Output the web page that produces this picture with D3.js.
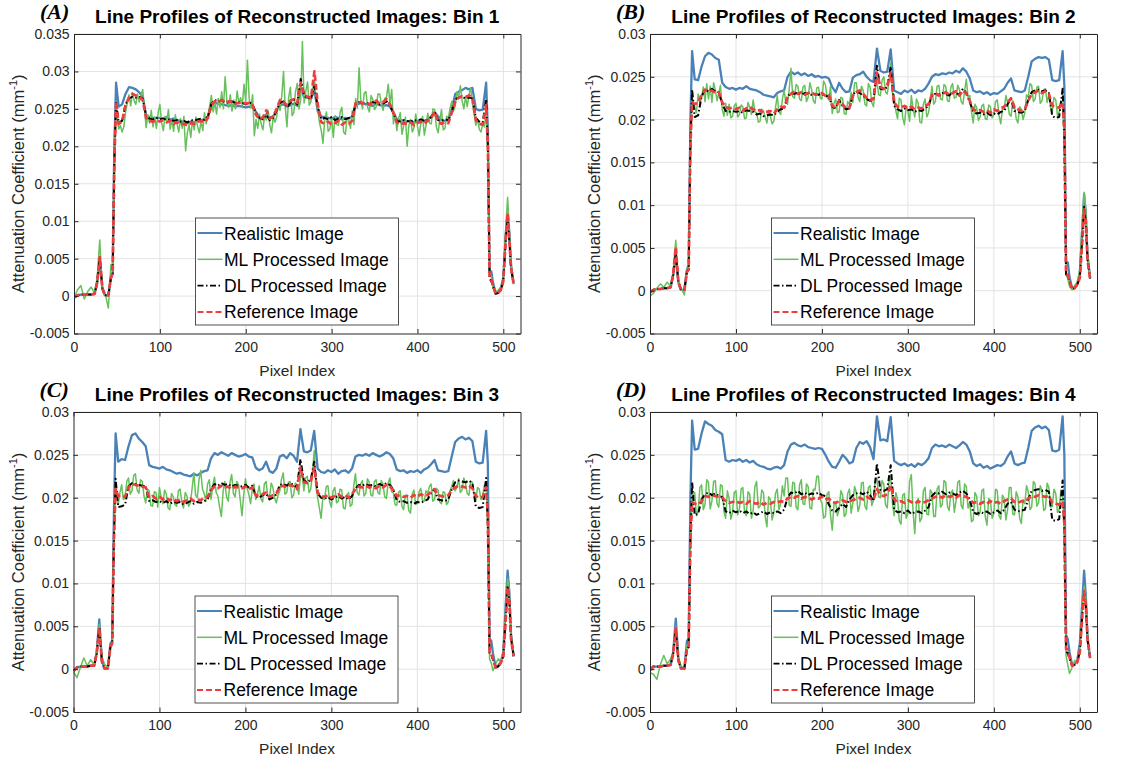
<!DOCTYPE html>
<html>
<head>
<meta charset="utf-8">
<script src="https://cdn.jsdelivr.net/npm/d3@7"></script>
<style>
  body { margin: 0; background: #fff; }
  svg text { font-family: "Liberation Sans", Arial, Helvetica, sans-serif; }
</style>
</head>
<body>
<svg id="fig" width="1140" height="761"></svg>
<script>
// Pixel positions along the profile (realistic, DL and reference curves)
const pixelIndex = [0,4,8,12,16,20,24,27,30,33,36,40,43,45,47,49,
  52,56,60,64,68,72,76,80,84,88,92,96,
  100,104,108,112,116,120,124,128,132,136,140,144,
  148,152,156,160,164,168,172,176,180,184,188,192,
  196,200,204,208,212,216,220,224,228,232,236,240,
  244,248,252,256,260,264,268,272,276,280,284,288,
  292,296,300,304,308,312,316,320,324,328,332,336,
  340,344,348,352,356,360,364,368,372,376,380,384,
  388,392,396,400,404,408,412,416,420,424,428,432,
  436,440,444,448,452,456,460,464,468,472,476,480,
  482,484,486,488,491,494,497,500,503,505,507,509,512];

// Denser pixel positions for the noisy ML curves
const mlIndex = [0,4,8,12,16,20,24,27,30,33,36,40,43,45,47,49,
  52,54,56,58,60,62,64,66,68,70,72,74,
  76,78,80,82,84,86,88,90,92,94,96,98,
  100,102,104,106,108,110,112,114,116,118,120,122,
  124,126,128,130,132,134,136,138,140,142,144,146,
  148,150,152,154,156,158,160,162,164,166,168,170,
  172,174,176,178,180,182,184,186,188,190,192,194,
  196,198,200,202,204,206,208,210,212,214,216,218,
  220,222,224,226,228,230,232,234,236,238,240,242,
  244,246,248,250,252,254,256,258,260,262,264,266,
  268,270,272,274,276,278,280,282,284,286,288,290,
  292,294,296,298,300,302,304,306,308,310,312,314,
  316,318,320,322,324,326,328,330,332,334,336,338,
  340,342,344,346,348,350,352,354,356,358,360,362,
  364,366,368,370,372,374,376,378,380,382,384,386,
  388,390,392,394,396,398,400,402,404,406,408,410,
  412,414,416,418,420,422,424,426,428,430,432,434,
  436,438,440,442,444,446,448,450,452,454,456,458,
  460,462,464,466,468,470,472,474,476,478,480,
  482,484,486,488,491,494,497,500,503,505,507,509,512];

// Attenuation values, in units of 1e-3 mm^-1

// ---- Bin 1 ----
const bin1Realistic = [-0.1,0.1,0.2,0.2,0.2,0.2,0.3,1.8,5.0,1.2,0.1,0.1,2.4,3.0,20.0,28.5,
  25.3,25.6,27.0,27.9,27.8,27.6,27.2,26.6,24.2,23.9,23.8,23.8,
  23.8,23.7,23.9,23.6,23.7,23.5,23.4,23.2,23.1,23.3,23.2,23.4,
  23.5,23.6,24.0,25.2,25.8,25.7,25.6,25.5,25.4,25.5,25.3,25.4,
  25.3,25.2,25.3,25.2,24.6,23.8,23.7,24.3,23.8,24.0,24.8,25.5,
  25.6,25.3,25.5,25.7,25.4,28.0,26.5,26.5,26.3,27.5,24.6,24.0,
  23.9,23.8,23.7,23.9,23.8,23.6,23.8,23.7,24.0,25.5,25.7,25.8,
  25.6,25.5,25.4,25.7,25.5,25.4,25.5,25.3,24.5,23.6,23.5,23.4,
  23.3,23.4,23.2,23.3,23.5,23.4,23.6,24.0,24.6,24.0,23.5,23.4,
  23.5,25.0,27.0,27.3,27.5,27.8,27.6,27.8,25.0,24.8,24.9,28.5,
  22.0,3.2,3.3,1.8,0.4,0.5,0.9,2.5,8.5,11.0,8.5,4.0,1.6];
const bin1ML = [-0.3,0.8,1.4,-0.4,0.6,1.2,0.4,2.5,7.5,0.9,0.5,-1.6,4.2,3.5,16.0,25.5,
  22.3,22.8,21.9,22.6,24.5,25.8,26.9,25.4,27.2,26.1,25.6,27.0,
  25.9,26.8,27.6,25.1,22.5,24.2,23.1,24.8,22.6,23.9,22.4,24.5,
  25.6,23.2,22.1,24.0,23.4,24.9,22.3,23.6,22.0,24.2,23.0,21.9,
  23.7,22.4,24.0,19.4,21.8,22.9,21.2,23.5,22.2,23.9,22.6,21.8,
  23.4,22.1,24.5,23.0,24.2,25.4,26.8,24.6,25.9,24.3,26.4,25.2,
  27.3,25.0,29.3,26.1,25.2,26.9,24.7,26.2,25.0,27.4,25.8,26.5,
  25.4,28.3,26.0,31.5,26.4,25.1,26.9,21.4,23.6,22.4,24.3,23.0,
  22.2,24.1,23.5,24.8,22.9,21.8,24.0,23.2,23.9,25.6,24.8,26.7,
  30.0,25.3,22.6,26.5,27.9,24.1,24.5,27.3,28.4,25.0,26.2,34.0,
  25.8,27.4,28.6,25.5,26.0,27.7,28.9,26.2,24.8,23.1,22.1,20.4,
  23.5,24.6,22.0,22.3,23.8,21.2,24.1,22.9,22.8,24.6,25.2,21.9,
  21.6,23.8,23.5,22.4,24.7,22.9,26.4,25.1,30.5,26.2,25.0,27.1,
  27.3,25.2,24.6,26.8,26.2,24.9,25.3,27.0,27.0,25.6,24.8,26.4,
  26.6,28.3,25.7,27.6,23.0,24.3,22.1,23.7,24.5,21.6,22.8,23.9,
  20.0,22.8,23.6,21.9,22.5,24.3,22.7,21.4,23.2,24.0,21.5,22.8,
  24.4,23.1,23.0,25.0,24.9,22.6,21.8,23.5,24.9,22.2,22.4,24.0,
  23.8,25.1,26.0,24.7,25.4,27.3,26.5,28.1,26.1,25.0,26.6,25.3,
  26.9,27.8,25.7,24.2,22.8,23.6,22.3,21.9,23.0,22.6,24.8,
  19.0,2.8,2.6,1.0,0.6,0.8,1.2,2.5,9.5,13.2,9.0,4.5,2.0];
const bin1DL = [-0.2,0.1,0.2,0.2,0.2,0.2,0.3,1.8,5.1,1.0,0.1,0.1,2.4,3.0,18.0,25.8,
  23.2,23.4,25.6,26.4,26.6,26.5,26.6,26.4,24.0,23.7,23.6,23.8,
  23.6,23.7,23.5,23.6,23.4,23.5,23.3,23.4,23.2,23.5,23.4,23.6,
  23.7,23.5,24.0,25.7,26.2,26.0,26.1,25.9,25.8,26.0,25.8,25.9,
  25.8,25.6,25.9,25.6,24.4,23.8,23.6,24.2,23.5,23.8,24.8,25.8,
  26.0,25.2,25.8,26.2,25.6,29.0,26.8,26.4,26.5,28.0,25.2,23.6,
  23.8,23.6,23.9,23.5,23.7,23.9,23.6,23.8,23.9,25.6,25.9,25.8,
  25.8,25.7,25.9,25.8,25.6,25.7,26.0,25.5,24.4,23.4,23.3,23.5,
  23.4,23.3,23.5,23.4,23.6,23.4,23.5,23.9,24.6,23.5,23.4,23.6,
  23.5,24.6,26.3,26.5,26.6,26.4,26.5,26.4,23.8,23.3,23.2,26.3,
  20.0,2.3,2.0,1.3,0.3,0.4,0.8,2.0,7.8,10.5,7.3,3.7,1.6];
const bin1Reference = [-0.2,0.1,0.2,0.2,0.2,0.2,0.3,1.8,5.2,1.0,0.1,0.1,2.5,3.0,18.0,26.0,
  23.0,23.3,25.5,26.5,27.0,26.8,26.6,26.2,23.8,23.4,23.3,23.5,
  23.3,23.5,23.2,23.4,23.0,23.2,22.9,23.0,22.8,23.1,23.0,23.3,
  23.4,23.2,23.8,25.6,26.0,25.9,26.2,25.8,26.0,25.9,25.7,25.8,
  25.9,25.7,25.8,25.5,24.2,23.6,23.9,24.8,23.7,24.0,25.0,26.2,
  25.9,25.5,26.1,26.3,25.8,28.5,27.0,26.6,26.5,30.0,25.5,23.2,
  23.0,23.3,22.9,23.1,23.4,22.9,23.2,23.0,23.4,25.8,26.0,25.7,
  25.9,25.6,25.8,26.1,25.7,25.9,26.3,25.6,24.5,23.2,22.9,23.1,
  23.0,23.2,22.8,23.1,23.3,23.0,23.4,23.8,24.6,23.3,23.0,23.2,
  23.1,24.5,26.0,26.5,26.7,26.6,26.8,26.5,23.5,23.0,22.9,25.5,
  20.0,2.5,2.2,1.4,0.3,0.4,0.8,2.0,8.0,11.0,7.5,3.8,1.6];

// ---- Bin 2 ----
const bin2Realistic = [-0.2,0.1,0.2,0.2,0.3,0.3,0.4,1.8,4.2,1.0,0.1,0.1,2.5,3.0,20.0,28.0,
  24.7,24.6,26.2,27.4,27.8,27.6,27.2,27.0,24.3,23.8,23.6,23.7,
  23.5,23.7,23.6,23.9,23.6,23.5,23.4,23.2,22.9,22.8,22.7,22.6,
  23.1,23.3,23.4,25.0,25.6,25.3,25.5,25.2,25.4,25.1,25.3,25.0,
  25.1,24.9,25.0,24.8,23.8,23.2,24.3,23.6,23.2,23.3,24.9,25.2,
  25.3,25.6,25.0,24.6,24.4,28.3,25.7,25.5,25.6,28.2,23.4,23.2,
  23.0,23.4,23.2,23.5,23.1,23.4,23.3,23.6,24.2,25.0,25.3,25.2,
  25.4,25.3,25.5,25.4,25.7,25.5,26.0,25.6,24.8,23.4,23.2,23.3,
  23.0,23.2,22.9,23.1,23.0,23.3,23.6,24.3,24.8,23.4,23.3,23.2,
  23.4,25.0,26.8,27.1,27.3,27.2,27.3,27.0,24.6,24.5,24.6,28.0,
  24.0,3.4,3.3,1.6,0.3,0.4,0.8,2.0,7.5,11.3,9.0,4.0,1.5];
const bin2ML = [-0.6,-0.3,0.3,0.8,0.4,1.0,0.5,2.3,5.9,1.2,0.3,-0.5,2.5,2.8,16.0,22.5,
  21.5,20.8,23.0,21.9,22.6,23.8,22.1,24.2,22.4,23.9,22.0,24.3,
  23.5,22.2,23.1,24.0,21.2,20.4,21.9,20.5,21.8,20.2,20.4,21.6,
  21.9,20.3,20.6,21.7,21.5,20.1,20.2,22.0,21.4,20.6,22.3,20.9,
  20.8,19.7,19.8,21.2,21.0,20.3,19.6,21.1,20.4,19.5,19.8,21.4,
  22.8,20.9,20.6,22.4,23.4,22.0,21.8,23.6,26.0,22.7,22.5,24.1,
  23.9,22.4,22.2,23.8,24.0,22.1,22.6,24.3,23.5,22.2,21.9,23.7,
  23.8,22.5,22.4,24.5,24.1,22.6,22.3,23.9,20.7,21.9,22.4,20.8,
  20.9,22.6,22.5,20.7,20.6,22.1,21.8,23.2,22.0,24.3,24.3,22.6,
  22.1,23.9,23.4,21.8,21.6,24.2,23.8,22.0,21.5,23.6,24.5,22.9,
  22.8,24.6,25.0,23.2,23.0,24.4,26.6,23.1,22.9,21.0,20.1,22.5,
  22.3,20.2,19.4,21.6,21.0,19.8,22.8,21.3,20.3,22.4,21.9,19.7,
  19.6,21.8,22.4,20.3,20.8,22.2,23.9,21.8,22.1,23.9,24.0,22.4,
  22.3,24.1,23.9,22.2,22.1,23.8,24.2,22.5,22.6,24.0,23.5,22.1,
  21.8,23.4,24.7,22.6,22.8,20.9,19.6,21.8,21.4,19.9,20.3,21.6,
  21.8,20.1,20.0,21.7,21.5,20.2,20.6,22.1,22.3,20.5,19.5,21.3,
  21.2,22.8,22.0,20.6,20.4,22.2,21.7,20.1,19.6,21.5,21.2,20.0,
  20.8,22.9,22.6,24.2,24.0,22.1,22.4,23.8,23.9,21.9,22.2,23.5,
  23.6,22.0,22.9,21.4,21.0,22.6,22.3,20.5,20.9,22.2,21.8,
  17.0,2.0,1.4,0.5,0.1,0.6,1.0,2.5,8.5,11.5,9.5,4.5,1.8];
const bin2DL = [-0.2,0.1,0.2,0.2,0.3,0.3,0.4,1.9,4.4,1.0,0.1,0.1,2.2,2.5,17.0,23.5,
  20.3,20.5,22.7,23.5,23.3,23.6,23.3,23.2,21.8,21.0,20.9,21.0,
  20.9,21.0,20.8,21.1,21.0,20.9,20.6,20.7,20.4,20.5,20.6,20.5,
  20.9,21.2,21.3,22.7,23.1,23.0,23.2,22.9,23.1,23.0,22.9,23.0,
  22.9,23.0,22.7,22.8,21.5,21.3,22.3,21.6,21.2,21.3,22.9,23.3,
  23.1,22.8,22.4,22.2,22.3,26.3,23.6,23.5,23.8,26.2,21.6,21.2,
  21.0,21.3,21.1,21.2,20.9,21.1,21.0,21.3,21.6,22.8,23.0,22.9,
  23.1,23.0,22.8,23.2,23.1,22.9,23.6,23.1,22.0,21.0,20.7,20.8,
  20.6,20.8,20.5,20.7,20.6,20.9,21.0,21.8,22.4,21.0,20.9,20.8,
  21.0,22.3,23.2,23.4,23.5,23.3,23.4,23.2,20.4,20.2,20.3,23.6,
  18.0,1.9,1.7,1.1,0.2,0.3,0.7,1.5,6.2,9.8,8.0,3.6,1.4];
const bin2Reference = [-0.2,0.1,0.2,0.2,0.3,0.3,0.4,2.0,5.1,1.0,0.1,0.1,2.2,2.5,17.0,22.0,
  21.8,22.0,22.9,23.5,23.3,23.4,23.1,23.2,22.0,21.5,21.3,21.4,
  21.2,21.4,21.1,21.3,21.5,21.2,21.0,21.1,20.8,20.9,21.0,20.7,
  21.2,21.5,21.4,22.6,23.0,23.3,23.0,23.2,22.9,23.1,23.2,22.9,
  23.0,23.1,22.8,22.9,21.6,21.4,22.2,21.8,21.3,21.4,22.8,23.2,
  23.4,23.0,22.5,22.3,22.4,25.5,23.8,23.6,24.0,25.5,22.0,21.5,
  21.4,21.6,21.3,21.5,21.2,21.4,21.3,21.6,21.8,22.9,23.1,22.8,
  23.0,23.2,22.9,23.1,23.3,22.8,23.4,23.0,22.2,21.2,21.0,21.1,
  20.9,21.1,20.8,21.2,21.0,21.3,21.5,22.0,22.5,21.4,21.2,21.0,
  21.2,22.2,23.0,23.2,23.4,23.1,23.3,23.0,21.6,21.5,21.4,22.0,
  19.0,2.0,1.8,1.2,0.2,0.3,0.7,1.5,6.0,9.5,8.0,3.5,1.4];

// ---- Bin 3 ----
const bin3Realistic = [-0.2,0.2,0.3,0.3,0.3,0.4,0.4,2.0,5.8,1.0,0.1,0.1,3.0,3.3,18.0,27.5,
  24.2,24.5,24.4,26.0,27.3,27.5,26.9,26.5,26.0,23.8,23.6,23.5,
  23.4,23.6,23.3,23.2,23.0,22.8,22.9,22.7,22.6,22.5,22.8,22.6,
  22.9,23.1,23.2,24.6,25.2,25.0,25.3,25.1,24.9,25.2,25.0,24.8,
  24.9,25.1,24.8,24.7,23.5,23.2,23.4,24.2,23.1,22.9,23.4,24.8,
  25.0,24.6,25.2,24.9,24.2,28.0,25.4,25.3,25.5,27.8,23.4,23.0,
  22.9,23.2,23.0,23.3,22.8,23.1,23.2,22.9,23.4,24.8,25.0,24.9,
  25.1,24.9,25.2,25.0,24.8,25.0,25.3,25.1,24.6,23.3,23.1,23.2,
  22.9,23.1,23.0,23.2,22.9,23.3,23.5,23.9,24.4,23.2,23.1,23.0,
  23.1,24.8,26.5,26.9,27.1,26.8,27.0,26.6,24.2,24.0,24.1,27.8,
  24.0,3.5,3.3,1.8,0.3,0.4,0.8,2.0,8.0,11.5,9.0,4.0,1.5];
const bin3ML = [-0.3,-1.0,0.2,1.3,0.4,1.1,0.5,2.2,5.2,1.5,0.6,0.2,2.8,3.2,15.5,21.0,
  19.2,20.6,21.5,19.8,20.0,21.9,22.3,20.4,20.8,22.6,22.8,20.9,
  20.5,22.1,21.9,20.2,19.4,21.0,20.8,19.1,19.0,20.7,20.6,18.9,
  21.2,20.0,19.3,20.9,20.4,18.8,18.6,20.5,20.1,19.2,19.0,20.8,
  21.0,19.5,18.8,20.6,20.2,19.0,19.4,21.1,22.9,20.3,20.0,22.1,
  23.2,21.0,20.5,19.6,21.6,22.1,19.8,21.4,22.4,20.6,20.2,18.9,
  17.8,20.7,21.9,20.1,19.6,21.8,22.7,20.5,20.1,21.9,21.5,19.7,
  17.9,20.3,22.2,21.1,20.4,19.3,21.0,21.6,19.8,20.4,21.4,19.9,
  19.5,21.6,21.9,20.2,20.0,21.7,21.2,19.9,19.4,20.3,20.8,22.2,
  22.9,20.4,20.6,21.8,21.9,20.0,20.3,21.7,21.5,20.4,22.4,23.1,
  20.8,22.3,22.5,20.6,21.0,22.9,25.5,21.3,20.0,18.8,17.6,19.9,
  19.8,21.3,21.4,19.5,18.9,20.8,21.2,19.4,19.6,21.0,20.9,18.8,
  18.7,20.3,20.6,19.0,19.2,21.4,22.8,20.6,20.3,21.6,22.0,20.2,
  20.5,22.2,21.8,20.3,20.2,21.9,22.1,20.6,20.4,22.0,21.6,20.1,
  19.9,21.7,22.3,20.7,20.6,19.2,19.1,20.6,20.8,19.0,18.6,20.3,
  20.3,18.5,18.2,20.4,20.9,19.2,19.4,20.7,21.1,19.7,19.6,20.8,
  20.5,21.3,21.6,19.6,19.8,21.1,20.9,19.5,19.3,20.7,20.6,19.2,
  19.5,20.8,21.3,22.0,20.8,21.2,22.2,20.6,20.9,22.3,21.7,20.5,
  20.3,21.9,21.8,20.4,19.6,21.2,21.0,19.8,20.2,21.5,21.6,
  16.0,1.2,0.7,-0.2,0.6,1.2,0.9,2.0,7.5,10.6,9.0,4.2,1.8];
const bin3DL = [-0.2,0.2,0.3,0.3,0.3,0.4,0.4,1.8,4.9,0.9,0.1,0.1,2.6,3.0,15.0,22.2,
  18.9,19.0,19.2,21.3,21.7,21.6,21.5,21.4,21.3,19.6,19.7,19.5,
  19.6,19.4,19.6,19.3,19.5,19.4,19.5,19.2,19.4,19.6,19.3,19.5,
  19.4,19.6,19.8,21.0,21.6,21.4,21.7,21.5,21.6,21.3,21.5,21.4,
  21.3,21.5,21.2,21.4,20.2,20.0,20.3,20.5,19.8,20.0,20.4,21.5,
  21.6,21.4,21.7,21.5,21.2,24.5,22.0,21.8,22.1,24.2,20.5,20.0,
  19.9,20.1,19.8,20.0,20.2,19.9,20.1,19.8,20.2,21.1,21.5,21.4,
  21.6,21.4,21.5,21.3,21.6,21.4,21.7,21.5,21.0,19.7,19.5,19.6,
  19.4,19.5,19.3,19.5,19.4,19.6,19.8,20.6,21.0,19.8,19.7,19.6,
  19.8,21.0,21.8,22.0,21.9,21.8,22.0,21.7,19.0,18.8,18.9,22.3,
  17.0,1.8,1.7,1.1,0.2,0.3,0.7,1.5,6.2,9.7,8.0,3.6,1.5];
const bin3Reference = [-0.2,0.2,0.3,0.3,0.3,0.4,0.4,1.8,4.8,0.9,0.1,0.1,2.6,3.0,15.0,21.0,
  20.2,20.3,20.1,21.2,21.6,21.5,21.4,21.3,21.2,20.0,20.2,19.9,
  20.1,19.8,20.0,19.7,19.9,19.6,19.8,19.5,19.7,19.9,19.6,19.8,
  19.7,20.0,20.1,20.9,21.3,21.1,21.4,21.2,21.3,21.0,21.3,21.2,
  21.1,21.3,21.0,21.2,20.3,20.2,20.4,20.6,20.1,20.3,20.5,21.3,
  21.4,21.2,21.5,21.3,21.0,23.5,21.8,21.7,21.9,23.5,20.6,20.2,
  20.1,20.3,20.0,20.2,20.4,20.1,20.3,20.0,20.4,21.0,21.3,21.2,
  21.4,21.2,21.3,21.1,21.4,21.2,21.5,21.3,20.9,20.2,20.3,20.1,
  20.2,20.0,20.3,20.1,20.4,20.2,20.3,20.7,21.0,20.3,20.2,20.1,
  20.3,20.9,21.2,21.4,21.3,21.2,21.4,21.1,20.2,20.0,20.1,21.2,
  18.0,2.0,1.9,1.2,0.2,0.3,0.7,1.5,6.0,9.5,8.0,3.5,1.5];

// ---- Bin 4 ----
const bin4Realistic = [-0.1,0.3,0.3,0.3,0.4,0.4,0.5,2.0,5.9,1.2,0.1,0.1,3.3,3.6,20.0,29.0,
  25.6,25.7,27.5,28.9,28.6,28.4,27.9,27.7,27.4,24.4,24.2,24.4,
  24.3,24.5,24.2,24.4,24.1,24.3,23.9,23.7,23.6,23.4,23.3,23.5,
  23.6,23.4,23.8,25.4,26.2,26.4,26.1,26.0,26.2,25.9,25.8,25.7,
  25.8,25.7,25.0,24.2,23.6,23.5,24.2,25.0,24.6,24.0,24.2,25.8,
  26.5,26.3,26.6,25.9,24.5,29.5,26.7,26.8,26.6,29.4,24.3,24.0,
  23.8,24.0,23.7,23.9,23.6,24.0,23.8,24.1,24.6,25.8,26.2,26.0,
  26.1,25.9,26.2,26.0,25.8,26.1,26.5,26.2,25.4,24.0,23.7,23.9,
  23.5,23.7,23.4,23.6,23.8,23.7,24.0,24.8,25.4,24.0,23.8,24.0,
  24.1,25.8,27.8,28.2,28.4,28.1,28.3,27.9,25.5,25.4,25.6,29.5,
  25.0,4.0,3.5,2.0,0.5,0.6,1.0,3.0,8.0,11.5,8.5,3.5,1.3];
const bin4ML = [-0.4,-0.6,-1.2,0.5,1.6,0.6,1.2,2.0,5.0,1.5,0.4,0.0,2.8,3.0,14.0,20.0,
  20.6,17.9,18.4,21.2,21.5,18.6,19.2,22.1,21.8,18.7,19.6,21.9,
  22.0,19.3,18.9,21.5,21.4,18.4,17.6,20.8,19.9,17.5,18.3,20.6,
  20.8,18.0,18.7,21.0,21.2,18.3,17.9,20.7,20.4,17.6,18.5,21.3,
  21.9,18.8,19.0,20.9,20.6,17.8,16.6,20.1,19.8,17.4,18.2,20.5,
  21.0,18.6,19.3,21.4,20.2,22.3,22.3,19.1,19.0,21.8,21.7,18.9,
  18.6,21.5,22.1,19.3,19.2,21.6,21.3,18.8,18.7,21.0,20.9,22.5,
  22.5,19.8,19.4,17.6,17.8,20.4,20.7,18.0,16.2,19.2,19.5,17.9,
  18.6,20.8,20.3,17.8,18.1,20.5,21.0,18.2,19.4,21.3,20.6,18.4,
  19.1,21.7,21.8,19.0,18.6,21.2,21.4,19.1,19.7,22.0,22.3,20.1,
  20.0,22.0,21.6,19.2,18.8,21.8,22.4,19.4,17.9,20.6,19.8,17.3,
  16.9,20.3,20.5,17.6,18.2,21.9,22.7,18.4,15.8,19.4,19.9,17.2,
  17.6,20.8,21.2,18.1,18.0,20.9,20.6,17.8,17.8,21.0,21.4,18.9,
  19.2,22.0,21.8,19.0,18.5,20.5,20.9,18.3,19.6,21.8,22.0,19.1,
  18.7,21.6,21.3,18.8,19.5,17.2,17.4,20.6,20.2,17.9,18.3,20.8,
  21.0,17.8,16.8,19.9,19.7,17.6,18.2,21.0,20.8,17.9,17.5,20.3,
  19.9,17.4,18.6,21.2,21.2,18.1,18.0,20.7,20.1,17.6,17.0,19.8,
  19.3,21.4,20.7,18.6,18.9,21.9,21.6,19.0,19.4,21.4,20.8,18.5,
  18.7,21.7,21.2,18.9,19.0,21.0,20.5,18.3,18.6,20.9,20.4,
  16.0,1.6,0.5,-0.5,0.2,1.0,0.8,2.5,7.5,9.7,8.5,4.0,1.6];
const bin4DL = [-0.1,0.3,0.3,0.3,0.4,0.4,0.5,1.8,4.6,1.0,0.1,0.1,2.3,2.6,15.0,21.8,
  18.0,18.1,19.8,20.4,20.6,20.3,20.5,20.2,20.1,18.4,18.2,18.5,
  18.3,18.5,18.2,18.4,18.1,18.3,18.0,18.2,18.4,18.1,18.3,18.2,
  18.4,18.2,18.6,20.0,20.6,20.5,20.8,20.4,20.6,20.3,20.5,20.4,
  20.6,20.3,20.2,19.2,18.5,18.4,18.8,19.3,18.9,19.8,20.3,20.5,
  20.6,20.4,20.7,20.3,19.6,24.0,20.9,20.8,21.0,23.8,18.6,18.3,
  18.4,18.2,18.5,18.1,18.3,18.4,18.2,18.5,18.9,20.2,20.6,20.5,
  20.7,20.4,20.6,20.5,20.3,20.6,20.8,20.5,19.8,18.3,18.1,18.3,
  18.2,18.4,18.1,18.3,18.5,18.2,18.6,19.3,19.5,18.6,18.4,18.5,
  18.6,19.8,20.8,20.9,21.0,20.8,20.9,20.7,17.4,17.3,17.5,22.0,
  16.0,2.0,1.9,1.2,0.4,0.5,0.8,2.0,6.5,8.8,7.3,3.4,1.3];
const bin4Reference = [-0.1,0.3,0.3,0.3,0.4,0.4,0.5,1.8,4.8,1.0,0.1,0.1,2.4,2.6,15.0,19.5,
  19.3,19.2,19.6,20.2,20.1,20.3,20.2,20.1,20.0,19.6,19.4,19.5,
  19.6,19.4,19.5,19.3,19.6,19.4,19.3,19.5,19.2,19.4,19.3,19.5,
  19.4,19.6,19.5,19.9,20.1,20.0,20.2,19.9,20.1,20.0,19.8,20.0,
  19.9,20.1,19.8,19.9,19.5,19.4,19.6,19.7,19.5,19.6,19.7,19.9,
  20.0,19.8,20.1,19.9,19.8,21.0,20.3,20.2,20.4,21.4,19.8,19.5,
  19.6,19.4,19.7,19.5,19.3,19.6,19.4,19.5,19.7,19.9,20.1,20.2,
  20.0,20.3,20.1,20.2,20.0,20.3,20.2,20.1,19.8,19.4,19.5,19.3,
  19.5,19.3,19.6,19.4,19.5,19.3,19.6,19.8,19.9,19.5,19.4,19.6,
  19.5,19.9,20.2,20.1,20.3,20.2,20.1,20.2,19.4,19.3,19.2,19.6,
  17.0,2.4,2.3,1.4,0.4,0.5,0.8,2.0,6.5,9.1,7.5,3.5,1.3];

// Axis ticks and legend labels
const xTicks = [0, 100, 200, 300, 400, 500];
const yTicksBin1 = [-0.005, 0, 0.005, 0.01, 0.015, 0.02, 0.025, 0.03, 0.035];
const yTicksOther = [-0.005, 0, 0.005, 0.01, 0.015, 0.02, 0.025, 0.03];
const seriesNames = ["Realistic Image", "ML Processed Image", "DL Processed Image", "Reference Image"];
const seriesIndex = [pixelIndex, mlIndex, pixelIndex, pixelIndex];

// Line styles in legend order
const styles = [
    {color: "#4a82b8", width: 2.3, legendWidth: 2, dash: null},
    {color: "#66c05c", width: 1.5, legendWidth: 1.5, dash: null},
    {color: "#000000", width: 2.0, legendWidth: 1.8, dash: "6,2.5,1.5,2.5"},
    {color: "#ee3d3d", width: 2.7, legendWidth: 2, dash: "6,3"}
];

// Panel placement
const panels = [
    {tag: "(A)", title: "Line Profiles of Reconstructed Images: Bin 1", left: 74, right: 520.5, top: 34, bottom: 333.5,
     yMax: 0.035, yTicks: yTicksBin1, series: [bin1Realistic, bin1ML, bin1DL, bin1Reference]},
    {tag: "(B)", title: "Line Profiles of Reconstructed Images: Bin 2", left: 650, right: 1097, top: 34, bottom: 333.5,
     yMax: 0.03, yTicks: yTicksOther, series: [bin2Realistic, bin2ML, bin2DL, bin2Reference]},
    {tag: "(C)", title: "Line Profiles of Reconstructed Images: Bin 3", left: 73.5, right: 520.5, top: 412, bottom: 712,
     yMax: 0.03, yTicks: yTicksOther, series: [bin3Realistic, bin3ML, bin3DL, bin3Reference]},
    {tag: "(D)", title: "Line Profiles of Reconstructed Images: Bin 4", left: 650, right: 1097, top: 412, bottom: 712,
     yMax: 0.03, yTicks: yTicksOther, series: [bin4Realistic, bin4ML, bin4DL, bin4Reference]}
];

const svg = d3.select("#fig");
const axisColor = "#262626";
const fmt = d => String(+d.toFixed(3));

panels.forEach((p, pi) => {
    const x = d3.scaleLinear().domain([0, 520]).range([p.left, p.right]);
    const y = d3.scaleLinear().domain([-0.005, p.yMax]).range([p.bottom, p.top]);
    const g = svg.append("g");

    // Grid lines
    g.append("g").selectAll("line").data(xTicks.slice(1)).join("line")
        .attr("x1", d => x(d)).attr("x2", d => x(d))
        .attr("y1", p.top).attr("y2", p.bottom)
        .attr("stroke", "#e3e3e3").attr("stroke-width", 1);
    g.append("g").selectAll("line").data(p.yTicks.slice(1)).join("line")
        .attr("x1", p.left).attr("x2", p.right)
        .attr("y1", d => y(d)).attr("y2", d => y(d))
        .attr("stroke", "#e3e3e3").attr("stroke-width", 1);

    // Profiles, clipped to the axes box
    const clipId = "clip" + pi;
    svg.append("clipPath").attr("id", clipId).append("rect")
        .attr("x", p.left).attr("y", p.top)
        .attr("width", p.right - p.left).attr("height", p.bottom - p.top);

    const lines = g.append("g").attr("clip-path", `url(#${clipId})`);
    p.series.forEach((s, si) => {
        const idx = seriesIndex[si];
        const line = d3.line()
            .x((d, i) => x(idx[i]))
            .y(d => y(d * 1e-3));
        lines.append("path")
            .datum(s)
            .attr("d", line)
            .attr("fill", "none")
            .attr("stroke", styles[si].color)
            .attr("stroke-width", styles[si].width)
            .attr("stroke-dasharray", styles[si].dash)
            .attr("stroke-linejoin", "round");
    });

    // Axes (ticks point inward, like MATLAB)
    const styleAxis = sel => {
        sel.selectAll("path, line").attr("stroke", axisColor);
        sel.selectAll("text").attr("fill", axisColor).style("font-size", "14px");
    };
    g.append("g").attr("transform", `translate(0,${p.bottom})`)
        .call(d3.axisBottom(x).tickValues(xTicks).tickFormat(d3.format("d"))
            .tickSizeInner(-4.5).tickSizeOuter(0).tickPadding(8.5))
        .call(styleAxis);
    g.append("g").attr("transform", `translate(0,${p.top})`)
        .call(d3.axisTop(x).tickValues(xTicks).tickFormat("")
            .tickSizeInner(-4.5).tickSizeOuter(0))
        .call(styleAxis);
    g.append("g").attr("transform", `translate(${p.left},0)`)
        .call(d3.axisLeft(y).tickValues(p.yTicks).tickFormat(fmt)
            .tickSizeInner(-4.5).tickSizeOuter(0).tickPadding(4.5))
        .call(styleAxis);
    g.append("g").attr("transform", `translate(${p.right},0)`)
        .call(d3.axisRight(y).tickValues(p.yTicks).tickFormat("")
            .tickSizeInner(-4.5).tickSizeOuter(0))
        .call(styleAxis);
    g.selectAll(".domain").attr("stroke-width", 1);

    // Axis labels
    g.append("text")
        .attr("x", (p.left + p.right) / 2).attr("y", p.bottom + 42)
        .attr("text-anchor", "middle").attr("fill", axisColor)
        .style("font-size", "15.5px")
        .text("Pixel Index");

    const yl = g.append("text")
        .attr("transform", `translate(${p.left - 50},${(p.top + p.bottom) / 2}) rotate(-90)`)
        .attr("text-anchor", "middle").attr("fill", axisColor)
        .style("font-size", "16.5px");
    yl.append("tspan").text("Attenuation Coefficient (mm");
    yl.append("tspan").attr("dy", -7).style("font-size", "11px").text("-1");
    yl.append("tspan").attr("dy", 7).text(")");

    // Title and panel tag
    g.append("text")
        .attr("x", (p.left + p.right) / 2).attr("y", p.top - 11)
        .attr("text-anchor", "middle").attr("fill", "#000")
        .style("font-size", "19px").style("font-weight", "bold")
        .text(p.title);
    g.append("text")
        .attr("x", p.left - 34).attr("y", p.top - 15)
        .attr("fill", "#000")
        .style("font-family", "'Liberation Serif', 'Times New Roman', serif")
        .style("font-size", "22px").style("font-weight", "bold").style("font-style", "italic")
        .text(p.tag);

    // Legend
    const lg = g.append("g").attr("transform", `translate(${p.left + 121.5},${p.top + 184})`);
    lg.append("rect")
        .attr("width", 203).attr("height", 107)
        .attr("fill", "#fff").attr("stroke", axisColor).attr("stroke-width", 0.8);
    seriesNames.forEach((name, si) => {
        const cy = 15 + si * 26.3;
        lg.append("line")
            .attr("x1", 2).attr("x2", 27).attr("y1", cy).attr("y2", cy)
            .attr("stroke", styles[si].color)
            .attr("stroke-width", styles[si].legendWidth)
            .attr("stroke-dasharray", styles[si].dash);
        lg.append("text")
            .attr("x", 28.5).attr("y", cy + 6.5)
            .attr("fill", "#000")
            .style("font-size", "17.5px")
            .text(name);
    });
});
</script>
</body>
</html>
